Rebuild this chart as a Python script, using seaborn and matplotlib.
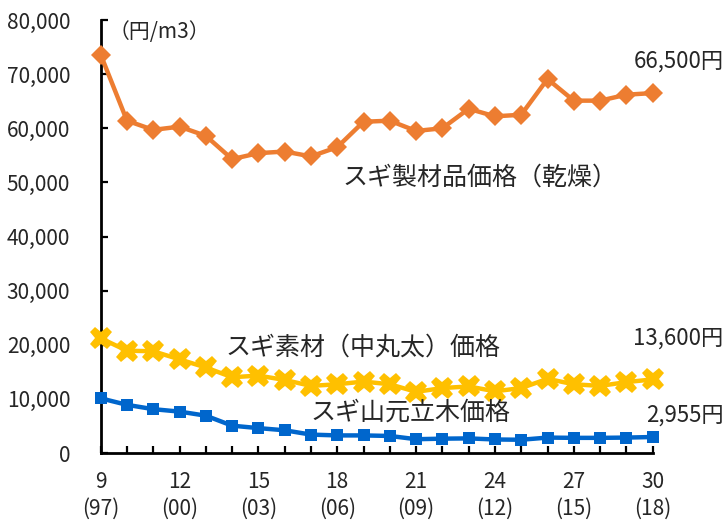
import matplotlib
matplotlib.use("Agg")
import matplotlib.pyplot as plt
import seaborn as sns
import pandas as pd

# Heisei year (calendar year) on the x axis
years = list(range(9, 31))
year_ticks = [9, 12, 15, 18, 21, 24, 27, 30]
year_tick_labels = ["9\n(97)", "12\n(00)", "15\n(03)", "18\n(06)", "21\n(09)",
                    "24\n(12)", "27\n(15)", "30\n(18)"]

# yen per cubic metre
lumber_dried = [73600, 61400, 59700, 60300, 58600, 54300, 55400, 55700, 54800,
                56500, 61200, 61400, 59500, 60000, 63600, 62200, 62500, 69100,
                65100, 65100, 66200, 66500]
log_medium = [21200, 18900, 18800, 17300, 15800, 14000, 14300, 13500, 12400,
              12700, 13200, 12700, 11300, 12000, 12300, 11400, 12000, 13700,
              12700, 12400, 13100, 13600]
standing_timber = [10100, 8900, 8100, 7650, 6900, 5050, 4600, 4200, 3400,
                   3250, 3250, 3150, 2550, 2650, 2700, 2500, 2450, 2850,
                   2800, 2800, 2850, 2955]

series_names = ["スギ製材品価格（乾燥）", "スギ素材（中丸太）価格", "スギ山元立木価格"]
end_labels = ["66,500円", "13,600円", "2,955円"]

df = pd.DataFrame({"year": years,
                   series_names[0]: lumber_dried,
                   series_names[1]: log_medium,
                   series_names[2]: standing_timber})

sns.set_theme(style="white")
plt.rcParams["font.family"] = ["Noto Sans CJK JP", "DejaVu Sans"]

fig = plt.figure(figsize=(7.28, 5.21), dpi=100)
ax = fig.add_axes([0.1383, 0.1305, 0.7582, 0.8311])

styles = [
    dict(color="#ED7D31", marker="D", markersize=10.5, linewidth=3.2),
    dict(color="#FFC000", marker="X", markersize=16, linewidth=3.2),
    dict(color="#0066CC", marker="s", markersize=9, linewidth=3.2),
]
for name, st in zip(series_names, styles):
    sns.lineplot(data=df, x="year", y=name, ax=ax, color=st["color"],
                 marker=st["marker"], markersize=st["markersize"],
                 linewidth=st["linewidth"], markeredgewidth=0, clip_on=False,
                 legend=False, zorder=3)

ax.set_xlim(9, 30)
ax.set_ylim(0, 80000)
ax.set_xlabel("")
ax.set_ylabel("")

ax.set_xticks(years, minor=True)
ax.set_xticks(year_ticks)
ax.set_xticklabels(year_tick_labels, fontsize=15, linespacing=1.3)
ax.set_yticks(range(0, 80001, 10000))
ax.set_yticklabels([f"{v:,}" for v in range(0, 80001, 10000)], fontsize=15)

ax.tick_params(axis="both", which="both", direction="in", length=5, width=1.6,
               color="black", left=True, bottom=True)
ax.tick_params(axis="y", pad=22)
ax.tick_params(axis="x", pad=13)

for side in ["top", "right"]:
    ax.spines[side].set_visible(False)
for side in ["left", "bottom"]:
    ax.spines[side].set_color("black")
    ax.spines[side].set_linewidth(2)

# unit label
ax.text(9.3, 77700, "（円/m3）", fontsize=15, ha="left", va="center")

# series labels
ax.text(18.2, 50800, series_names[0], fontsize=18, ha="left", va="center")
ax.text(13.75, 19400, series_names[1], fontsize=18, ha="left", va="center")
ax.text(17.0, 7400, series_names[2], fontsize=18, ha="left", va="center")

# latest-year values
last_values = [lumber_dried[-1], log_medium[-1], standing_timber[-1]]
offsets = [23, 30, 16]
for val, lab, dy in zip(last_values, end_labels, offsets):
    ax.annotate(lab, xy=(years[-1], val), xytext=(51, dy),
                textcoords="offset points", ha="right", va="center",
                fontsize=16, annotation_clip=False)

fig.savefig("out.png", dpi=100)
